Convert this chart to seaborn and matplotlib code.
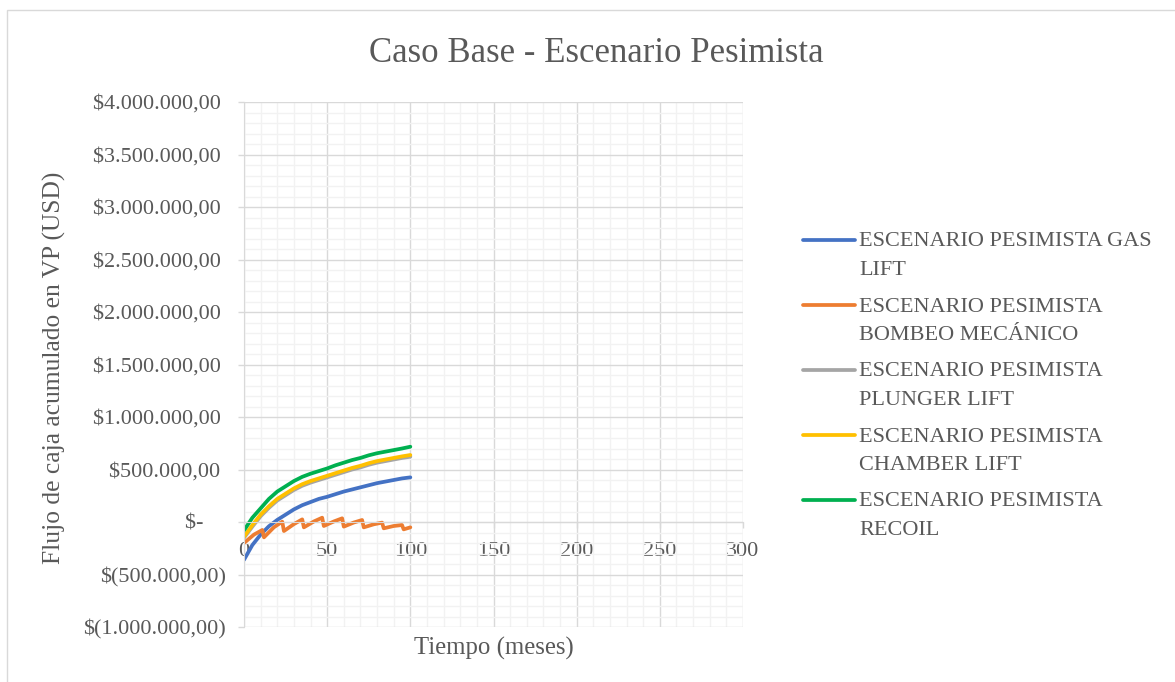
import numpy as np
import pandas as pd
import matplotlib
matplotlib.use("Agg")
import matplotlib.pyplot as plt
import matplotlib.ticker as mticker
from matplotlib.lines import Line2D
from matplotlib.patches import Rectangle
import seaborn as sns

# values (USD, present value)
meses = [0, 5, 10, 15, 20, 25, 30, 35, 40, 45, 50,
         55, 60, 65, 70, 75, 80, 85, 90, 95, 100]
gas_lift = [-360000, -220000, -120000, -40000, 20000, 70000, 120000, 160000, 190000, 220000, 240000,
            265000, 290000, 310000, 330000, 350000, 370000, 385000, 400000, 415000, 425000]
plunger_lift = [-150000, -45000, 55000, 135000, 205000, 255000, 305000, 345000, 375000, 400000, 425000,
                450000, 475000, 500000, 520000, 545000, 565000, 580000, 595000, 610000, 622000]
chamber_lift = [-140000, -30000, 70000, 150000, 220000, 270000, 320000, 360000, 390000, 415000, 440000,
                465000, 490000, 515000, 535000, 560000, 580000, 595000, 610000, 625000, 638000]
recoil = [-80000, 40000, 130000, 220000, 290000, 340000, 390000, 430000, 460000, 485000, 510000,
          540000, 565000, 590000, 610000, 635000, 655000, 670000, 685000, 700000, 717000]
meses_bombeo = [0, 6, 11, 12, 18, 23, 24, 30, 35, 36, 42, 47, 48, 54, 59,
                60, 66, 71, 72, 78, 83, 84, 90, 95, 96, 100]
bombeo_mecanico = [-200000, -120000, -76000, -146000, -50000, 3000, -86000, -20000, 25000, -51000,
                   5000, 41000, -38000, 5000, 35000, -44000, -5000, 19000, -51000, -22000,
                   -6000, -60000, -38000, -29000, -70000, -51000]

series = ["ESCENARIO PESIMISTA GAS LIFT", "ESCENARIO PESIMISTA BOMBEO MECÁNICO",
          "ESCENARIO PESIMISTA PLUNGER LIFT", "ESCENARIO PESIMISTA CHAMBER LIFT",
          "ESCENARIO PESIMISTA RECOIL"]
legend_labels = ["ESCENARIO PESIMISTA GAS\nLIFT", "ESCENARIO PESIMISTA\nBOMBEO MECÁNICO",
                 "ESCENARIO PESIMISTA\nPLUNGER LIFT", "ESCENARIO PESIMISTA\nCHAMBER LIFT",
                 "ESCENARIO PESIMISTA\nRECOIL"]
colors = ["#4472C4", "#ED7D31", "#A5A5A5", "#FFC000", "#00B050"]

df = pd.concat([
    pd.DataFrame({"mes": meses, "flujo": gas_lift, "serie": series[0]}),
    pd.DataFrame({"mes": meses_bombeo, "flujo": bombeo_mecanico, "serie": series[1]}),
    pd.DataFrame({"mes": meses, "flujo": plunger_lift, "serie": series[2]}),
    pd.DataFrame({"mes": meses, "flujo": chamber_lift, "serie": series[3]}),
    pd.DataFrame({"mes": meses, "flujo": recoil, "serie": series[4]}),
], ignore_index=True)

sns.set_style("white")
plt.rcParams['font.family'] = ['Liberation Serif', 'DejaVu Serif']
TXT = '#595959'
GRID = '#d9d9d9'

W, H = 1175, 682
fig = plt.figure(figsize=(W / 100, H / 100), dpi=100)
ax = fig.add_axes([244 / W, 1 - 627 / H, 499 / W, 525 / H])

sns.lineplot(data=df, x="mes", y="flujo", hue="serie", hue_order=series,
             palette=colors, estimator=None, sort=False, lw=2.7,
             legend=False, ax=ax)

ax.set_xlim(0, 300)
ax.set_ylim(-1000000, 4000000)
ax.xaxis.set_major_locator(mticker.MultipleLocator(50))
ax.xaxis.set_minor_locator(mticker.MultipleLocator(10))
ax.yaxis.set_major_locator(mticker.MultipleLocator(500000))
ax.yaxis.set_minor_locator(mticker.MultipleLocator(100000))


def fmt_usd(v, pos):
    if abs(v) < 1:
        return "$-    "
    s = f"{abs(v):,.2f}".replace(",", "X").replace(".", ",").replace("X", ".")
    return f"$({s})" if v < 0 else f"${s} "


ax.yaxis.set_major_formatter(mticker.FuncFormatter(fmt_usd))

ax.grid(which='major', color=GRID, lw=1)
ax.grid(which='minor', color='#f2f2f2', lw=1)
ax.set_axisbelow(True)

for s in ['top', 'right']:
    ax.spines[s].set_visible(False)
ax.spines['left'].set_color(GRID)
ax.spines['bottom'].set_color(GRID)
ax.spines['bottom'].set_position(('data', 0))

ax.tick_params(axis='y', which='major', direction='out', length=4.3, width=1,
               color=GRID, labelcolor=TXT, labelsize=16, pad=8.6, left=True)
ax.tick_params(axis='x', which='major', direction='out', length=4.3, width=1,
               color=GRID, labelcolor=TXT, labelsize=16, pad=10, bottom=True)
ax.tick_params(which='minor', length=0)

ax.set_xlabel("Tiempo (meses)", fontsize=17.8, color=TXT)
ax.xaxis.set_label_coords(0.5, -0.018)
ax.set_ylabel("Flujo de caja acumulado en VP (USD)", fontsize=18.4, color=TXT)
ax.yaxis.set_label_coords((66 - 244) / 499, 0.493)

fig.suptitle("Caso Base - Escenario Pesimista", x=596.5 / W, y=1 - 54 / H,
             va='center', ha='center', fontsize=25, color=TXT)

# legend, drawn like the spreadsheet one (handle on the first text line)
for i, (lab, c) in enumerate(zip(legend_labels, colors)):
    y_line = 240 + 65 * i
    fig.add_artist(Line2D([803 / W, 855 / W], [1 - y_line / H] * 2, color=c, lw=2.7,
                          transform=fig.transFigure))
    fig.text(859 / W, 1 - (y_line + 9) / H, lab, ha='left', va='center_baseline',
             fontsize=16, color=TXT, linespacing=1.66)

# outer chart frame
fig.add_artist(Rectangle((7 / W, -0.1), 1.2, 1.1 - 10 / H, transform=fig.transFigure,
                         fill=False, ec=GRID, lw=1))

fig.savefig("out.png", dpi=100)
